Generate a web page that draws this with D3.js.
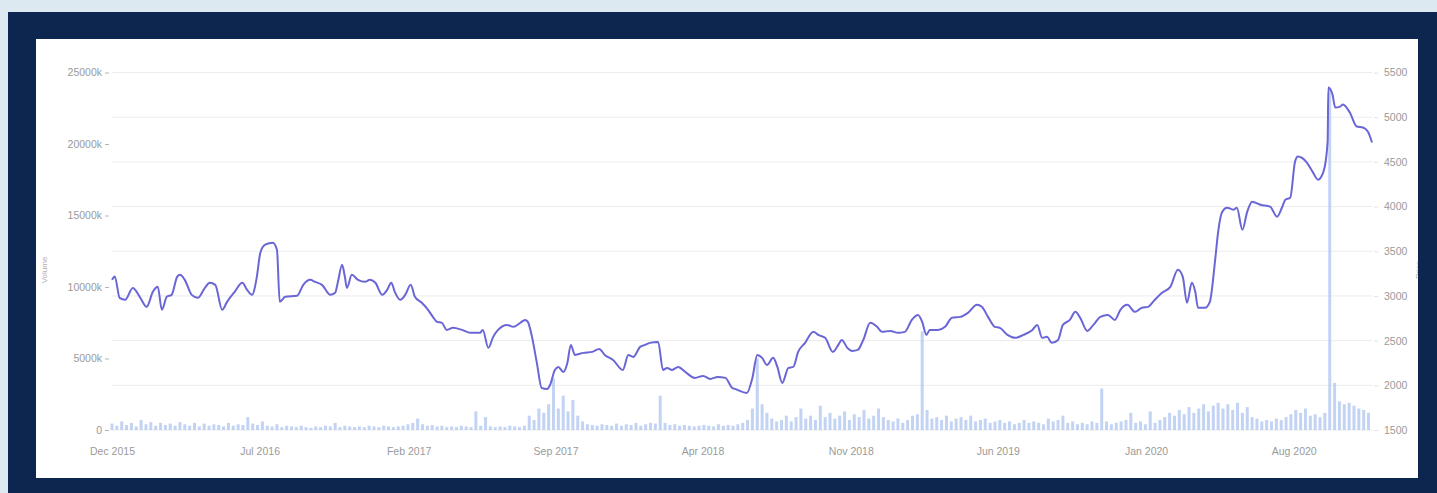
<!DOCTYPE html>
<html>
<head>
<meta charset="utf-8">
<script src="https://cdn.jsdelivr.net/npm/d3@7"></script>
<style>
  html, body { margin: 0; padding: 0; background: #dce9f1; }
  svg { display: block; }
  text { font-family: "Liberation Sans", Arial, sans-serif; }
</style>
</head>
<body>
<svg id="chart" width="1437" height="493"></svg>
<script>
// Closing price, sampled at turning points
const priceDates = [
  "2015-12-01","2015-12-05","2015-12-12","2015-12-20","2015-12-31","2016-01-10","2016-01-20","2016-01-29",
  "2016-02-05","2016-02-11","2016-02-18","2016-02-25","2016-03-04","2016-03-08","2016-03-15","2016-03-25",
  "2016-04-03","2016-04-13","2016-04-20","2016-04-28","2016-05-08","2016-05-15","2016-05-26","2016-06-06",
  "2016-06-13","2016-06-20","2016-06-27","2016-07-02","2016-07-09","2016-07-20","2016-07-26","2016-07-30",
  "2016-08-07","2016-08-24","2016-09-02","2016-09-12","2016-09-19","2016-09-29","2016-10-11","2016-10-18",
  "2016-10-22","2016-10-28","2016-11-01","2016-11-04","2016-11-11","2016-11-20","2016-11-30","2016-12-07",
  "2016-12-15","2016-12-25","2017-01-01","2017-01-07","2017-01-12","2017-01-20","2017-01-27","2017-02-04",
  "2017-02-10","2017-02-20","2017-03-01","2017-03-08","2017-03-14","2017-03-21","2017-03-28","2017-04-06",
  "2017-04-19","2017-05-01","2017-05-15","2017-05-19","2017-05-27","2017-06-03","2017-06-10","2017-06-23",
  "2017-07-02","2017-07-12","2017-07-19","2017-07-23","2017-07-29","2017-08-05","2017-08-12","2017-08-20",
  "2017-08-24","2017-08-31","2017-09-05","2017-09-12","2017-09-18","2017-09-23","2017-09-29","2017-10-11",
  "2017-10-24","2017-11-03","2017-11-11","2017-11-23","2017-12-07","2017-12-15","2017-12-22","2018-01-01",
  "2018-01-08","2018-01-15","2018-01-27","2018-02-03","2018-02-09","2018-02-16","2018-02-25","2018-03-07",
  "2018-03-21","2018-04-02","2018-04-12","2018-04-23","2018-05-04","2018-05-14","2018-05-18","2018-06-04",
  "2018-06-12","2018-06-19","2018-06-26","2018-07-03","2018-07-12","2018-07-18","2018-07-25","2018-08-03",
  "2018-08-10","2018-08-17","2018-08-27","2018-09-08","2018-09-15","2018-09-25","2018-10-06","2018-10-14",
  "2018-10-19","2018-10-27","2018-11-03","2018-11-11","2018-11-19","2018-11-29","2018-12-09","2018-12-16",
  "2018-12-28","2019-01-08","2019-01-18","2019-01-28","2019-02-06","2019-02-12","2019-02-18","2019-02-23",
  "2019-03-07","2019-03-17","2019-03-27","2019-04-08","2019-04-19","2019-05-02","2019-05-09","2019-05-18",
  "2019-05-28","2019-06-04","2019-06-15","2019-06-26","2019-07-08","2019-07-21","2019-07-28","2019-08-04",
  "2019-08-11","2019-08-18","2019-08-27","2019-09-03","2019-09-13","2019-09-21","2019-09-28","2019-10-08",
  "2019-10-17","2019-10-27","2019-11-07","2019-11-17","2019-11-25","2019-12-05","2019-12-16","2019-12-26",
  "2020-01-04","2020-01-14","2020-01-24","2020-02-05","2020-02-16","2020-02-23","2020-02-29","2020-03-07",
  "2020-03-12","2020-03-16","2020-03-26","2020-04-02","2020-04-10","2020-04-14","2020-04-20","2020-04-27",
  "2020-05-06","2020-05-11","2020-05-19","2020-05-26","2020-06-02","2020-06-14","2020-06-28","2020-07-08",
  "2020-07-15","2020-07-20","2020-07-27","2020-08-03","2020-08-07","2020-08-20","2020-08-29","2020-09-05",
  "2020-09-13","2020-09-19","2020-09-20","2020-09-26","2020-09-30","2020-10-07","2020-10-11","2020-10-21",
  "2020-10-31","2020-11-09","2020-11-16","2020-11-22"
];
const priceValues = [
  3180, 3218, 2979, 2957, 3090, 2990, 2878, 3046,
  3102, 2845, 2990, 3012, 3214, 3236, 3180, 3012,
  2979, 3090, 3147, 3124, 2845, 2934, 3046, 3147,
  3068, 3012, 3214, 3483, 3573, 3595, 3517, 2934,
  2990, 3001, 3124, 3180, 3158, 3124, 3012, 3035,
  3158, 3349, 3214, 3090, 3236, 3180, 3158, 3180,
  3147, 3012, 3068, 3147, 3046, 2957, 3012, 3124,
  2990, 2923, 2845, 2766, 2710, 2699, 2620, 2643,
  2620, 2587, 2587, 2620, 2419, 2542, 2620, 2676,
  2654, 2699, 2732, 2710, 2542, 2251, 1970, 1959,
  2004, 2172, 2206, 2150, 2251, 2452, 2340, 2363,
  2374, 2407, 2340, 2284, 2172, 2340, 2318, 2430,
  2452, 2475, 2486, 2172, 2195, 2172, 2206, 2150,
  2083, 2105, 2071, 2094, 2083, 1970, 1960, 1915,
  2083, 2340, 2307, 2228, 2307, 2206, 2027, 2195,
  2206, 2374, 2475, 2598, 2564, 2531, 2374, 2452,
  2508, 2419, 2385, 2396, 2508, 2699, 2654, 2598,
  2609, 2587, 2598, 2732, 2788, 2710, 2564, 2620,
  2620, 2654, 2755, 2766, 2811, 2901, 2878, 2766,
  2654, 2643, 2564, 2531, 2564, 2620, 2676, 2531,
  2542, 2475, 2508, 2676, 2732, 2822, 2755, 2609,
  2676, 2766, 2788, 2732, 2845, 2901, 2822, 2867,
  2878, 2960, 3035, 3102, 3293, 3214, 2923, 3147,
  3046, 2867, 2867, 2934, 3427, 3718, 3943, 3987,
  3965, 3987, 3741, 3943, 4055, 4021, 3999, 3887,
  3987, 4077, 4099, 4503, 4559, 4492, 4380, 4301,
  4391, 4727, 5332, 5253, 5108, 5119, 5141, 5052,
  4895, 4884, 4839, 4716
];

// Weekly traded volume in thousands, starting on the first trading week
const volumeStart = "2015-12-01";
const volumeValues = [
  450, 300, 600, 350, 500, 250, 700, 400, 550, 300,
  500, 350, 450, 300, 550, 400, 300, 500, 250, 450,
  300, 400, 350, 250, 500, 300, 400, 350, 900, 450,
  350, 600, 300, 250, 400, 200, 300, 250, 200, 300,
  200, 150, 250, 200, 300, 250, 500, 200, 300, 250,
  200, 250, 200, 300, 250, 200, 300, 250, 200, 250,
  300, 400, 500, 800, 400, 300, 350, 250, 300, 200,
  250, 200, 300, 250, 200, 1300, 300, 900, 250, 200,
  250, 200, 300, 250, 200, 300, 1000, 700, 1500, 1200,
  1800, 3600, 1500, 2400, 1300, 2100, 1000, 600, 400, 350,
  300, 400, 350, 300, 450, 300, 400, 350, 500, 300,
  400, 500, 450, 2400, 500, 350, 400, 300, 350, 300,
  250, 300, 350, 300, 250, 400, 300, 350, 300, 400,
  500, 700, 1500, 5000, 1800, 1200, 800, 600, 700, 1000,
  600, 900, 1500, 800, 1000, 700, 1700, 900, 1200, 800,
  1000, 1300, 700, 1100, 900, 1400, 800, 1000, 1500, 900,
  700, 600, 800, 500, 700, 1000, 1100, 6900, 1400, 800,
  900, 700, 1000, 600, 800, 900, 700, 1000, 600, 700,
  800, 500, 600, 700, 500, 600, 400, 500, 700, 500,
  600, 500, 400, 800, 600, 700, 1000, 500, 600, 400,
  500, 400, 600, 500, 2900, 600, 400, 500, 600, 700,
  1200, 500, 600, 400, 1300, 500, 700, 900, 1200, 1000,
  1400, 1100, 1600, 1200, 1500, 1800, 1300, 1700, 1900, 1500,
  1800, 1400, 1900, 1200, 1600, 900, 800, 600, 700, 600,
  800, 700, 900, 1100, 1400, 1200, 1500, 1000, 1100, 900,
  1200, 23900, 3300, 2000, 1800, 1900, 1700, 1500, 1400, 1200
];

// Axis ticks
const xTickDates = ["2015-12-01","2016-07-01","2017-02-01","2017-09-01","2018-04-01",
                    "2018-11-01","2019-06-01","2020-01-01","2020-08-01"];
const volumeTicks = [0, 5000, 10000, 15000, 20000, 25000];
const priceTicks = [1500, 2000, 2500, 3000, 3500, 4000, 4500, 5000, 5500];
const xDomain = ["2015-12-01", "2020-11-22"];

const parse = d3.utcParse("%Y-%m-%d");
const prices = priceDates.map((d, i) => ({ date: parse(d), value: priceValues[i] }));
const vStart = parse(volumeStart);
const volumes = volumeValues.map((v, i) => ({ date: d3.utcDay.offset(vStart, 7 * i), value: v }));

const svg = d3.select("#chart");

// Page frame: navy panel and white card
svg.append("rect").attr("x", 8).attr("y", 12).attr("width", 1429).attr("height", 481).attr("fill", "#0c2650");
svg.append("rect").attr("x", 36).attr("y", 39).attr("width", 1382).attr("height", 439).attr("fill", "#ffffff");

svg.append("defs").append("clipPath").attr("id", "card")
  .append("rect").attr("x", 36).attr("y", 39).attr("width", 1382).attr("height", 439);

const plot = { left: 112, right: 1372, top: 72.5, bottom: 430 };

const x = d3.scaleUtc().domain(xDomain.map(parse)).range([plot.left, plot.right]);
const yVol = d3.scaleLinear().domain([0, 25000]).range([plot.bottom, plot.top]);
const yPrice = d3.scaleLinear().domain([1500, 5500]).range([plot.bottom, plot.top]);

const g = svg.append("g").attr("clip-path", "url(#card)");

// Horizontal grid on the price ticks
g.append("g")
  .selectAll("line")
  .data(priceTicks)
  .join("line")
  .attr("x1", plot.left).attr("x2", plot.right)
  .attr("y1", d => yPrice(d)).attr("y2", d => yPrice(d))
  .attr("stroke", "#ececec").attr("stroke-width", 1);

// Volume bars
g.append("g")
  .selectAll("rect")
  .data(volumes)
  .join("rect")
  .attr("x", d => x(d.date) - 1.5)
  .attr("width", 3)
  .attr("y", d => yVol(d.value))
  .attr("height", d => plot.bottom - yVol(d.value))
  .attr("fill", "#b4c8f1")
  .attr("fill-opacity", 0.8);

// Price line
const line = d3.line()
  .x(d => x(d.date))
  .y(d => yPrice(d.value))
  .curve(d3.curveMonotoneX);

g.append("path")
  .datum(prices)
  .attr("d", line)
  .attr("fill", "none")
  .attr("stroke", "#6a66d6")
  .attr("stroke-width", 2)
  .attr("stroke-linejoin", "round");

const axisText = sel => sel.selectAll("text")
  .attr("fill", "#9a9a9a")
  .style("font-size", "10.5px");

// Left axis: volume
g.append("g")
  .attr("transform", `translate(${plot.left - 3},0)`)
  .call(d3.axisLeft(yVol).tickValues(volumeTicks)
    .tickFormat(d => d === 0 ? "0" : d + "k").tickSize(4).tickPadding(3))
  .call(s => s.select(".domain").remove())
  .call(s => s.selectAll(".tick line").attr("stroke", "#b5b5b5"))
  .call(axisText);

// Right axis: price
g.append("g")
  .attr("transform", `translate(${plot.right + 2},0)`)
  .call(d3.axisRight(yPrice).tickValues(priceTicks).tickFormat(d3.format("d")).tickSize(4).tickPadding(6))
  .call(s => s.select(".domain").remove())
  .call(s => s.selectAll(".tick line").attr("stroke", "#e2e2e2"))
  .call(axisText);

// Bottom axis: dates
g.append("g")
  .attr("transform", `translate(0,${plot.bottom})`)
  .call(d3.axisBottom(x).tickValues(xTickDates.map(parse)).tickFormat(d3.utcFormat("%b %Y")).tickSize(0).tickPadding(18))
  .call(s => s.select(".domain").remove())
  .call(axisText);

// Axis titles
g.append("text")
  .attr("transform", "translate(47,270) rotate(-90)")
  .attr("text-anchor", "middle")
  .attr("fill", "#b0b0b0")
  .style("font-size", "8px")
  .text("Volume");

g.append("text")
  .attr("transform", "translate(1421,270) rotate(-90)")
  .attr("text-anchor", "middle")
  .attr("fill", "#b0b0b0")
  .style("font-size", "8px")
  .text("Price");
</script>
</body>
</html>
